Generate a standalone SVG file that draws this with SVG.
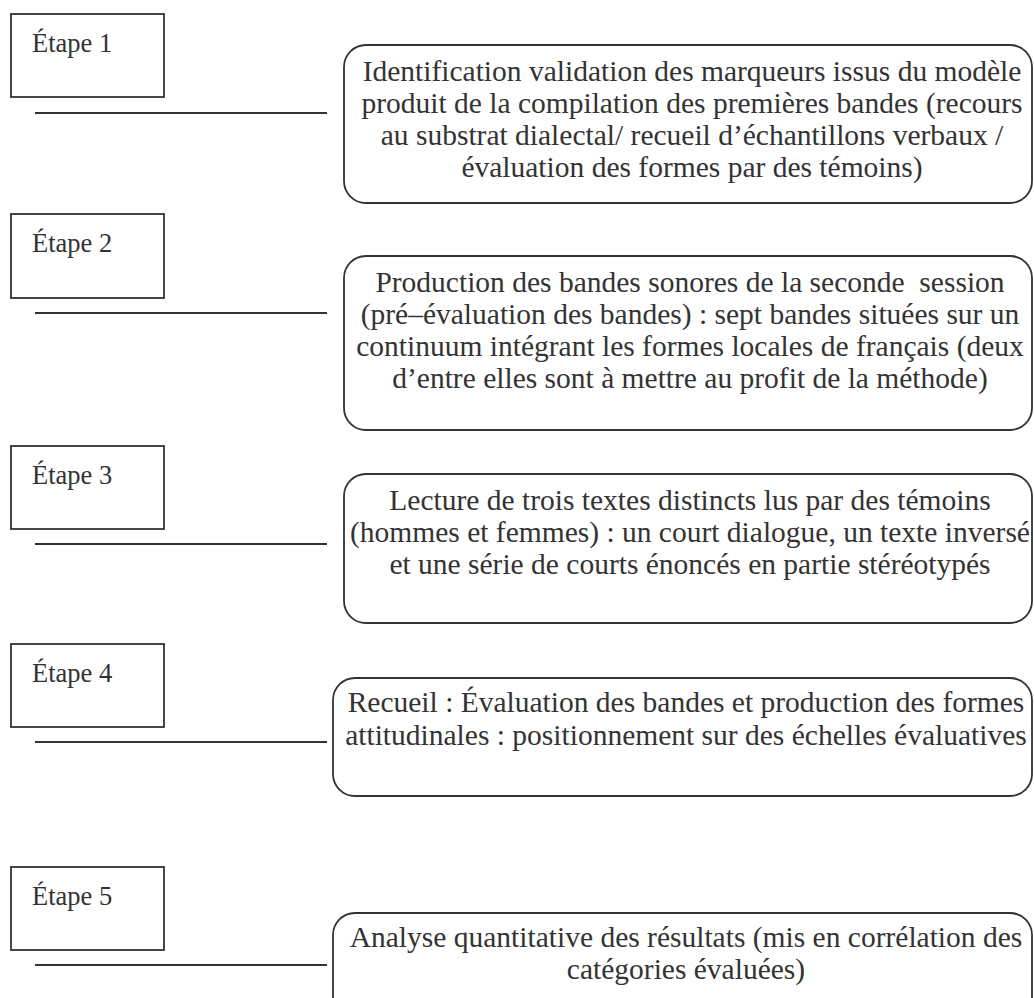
<svg xmlns="http://www.w3.org/2000/svg" width="1034" height="998" viewBox="0 0 1034 998">
<style>
.step{fill:#fff;stroke:#333;stroke-width:1.8}
.card{fill:#fff;stroke:#333;stroke-width:1.8}
.lbl{font-family:"Liberation Serif","Times New Roman",serif;font-size:26.5px;fill:#333}
.txt{font-family:"Liberation Serif","Times New Roman",serif;font-size:29.5px;fill:#333;text-anchor:middle;white-space:pre}
.conn{stroke:#333;stroke-width:1.8}
</style>
<rect width="1034" height="998" fill="#fff"/>
<g id="connectors">
<line class="conn" x1="35" y1="113" x2="327" y2="113"/>
<line class="conn" x1="35" y1="313" x2="327" y2="313"/>
<line class="conn" x1="35" y1="544" x2="327" y2="544"/>
<line class="conn" x1="35" y1="742" x2="327" y2="742"/>
<line class="conn" x1="35" y1="965" x2="327" y2="965"/>
</g>
<g id="step1"><rect class="step" x="11" y="14" width="153" height="83"/><text class="lbl" x="32" y="52">Étape 1</text></g>
<g id="step2"><rect class="step" x="11" y="214" width="153" height="84"/><text class="lbl" x="32" y="252">Étape 2</text></g>
<g id="step3"><rect class="step" x="11" y="446" width="153" height="83"/><text class="lbl" x="32" y="484">Étape 3</text></g>
<g id="step4"><rect class="step" x="11" y="644" width="153" height="83"/><text class="lbl" x="32" y="682">Étape 4</text></g>
<g id="step5"><rect class="step" x="11" y="867" width="153" height="83"/><text class="lbl" x="32" y="905">Étape 5</text></g>
<g id="card1"><rect class="card" x="344" y="45" width="688" height="158" rx="22"/>
<text class="txt" x="692" y="81">Identification validation des marqueurs issus du modèle</text>
<text class="txt" x="692" y="113">produit de la compilation des premières bandes (recours</text>
<text class="txt" x="692" y="145">au substrat dialectal/ recueil d’échantillons verbaux /</text>
<text class="txt" x="692" y="177">évaluation des formes par des témoins)</text></g>
<g id="card2"><rect class="card" x="344" y="256" width="688" height="174" rx="22"/>
<text class="txt" x="690" y="292">Production des bandes sonores de la seconde  session</text>
<text class="txt" x="690" y="324">(pré–évaluation des bandes) : sept bandes situées sur un</text>
<text class="txt" x="690" y="356">continuum intégrant les formes locales de français (deux</text>
<text class="txt" x="690" y="388">d’entre elles sont à mettre au profit de la méthode)</text></g>
<g id="card3"><rect class="card" x="344" y="474" width="688" height="149" rx="22"/>
<text class="txt" x="690" y="510">Lecture de trois textes distincts lus par des témoins</text>
<text class="txt" x="690" y="542">(hommes et femmes) : un court dialogue, un texte inversé</text>
<text class="txt" x="690" y="574">et une série de courts énoncés en partie stéréotypés</text></g>
<g id="card4"><rect class="card" x="333" y="678" width="699" height="118" rx="22"/>
<text class="txt" x="686" y="712">Recueil : Évaluation des bandes et production des formes</text>
<text class="txt" x="686" y="745">attitudinales : positionnement sur des échelles évaluatives</text></g>
<g id="card5"><rect class="card" x="333" y="913" width="699" height="120" rx="22"/>
<text class="txt" x="686" y="947">Analyse quantitative des résultats (mis en corrélation des</text>
<text class="txt" x="686" y="979">catégories évaluées)</text></g>
</svg>
